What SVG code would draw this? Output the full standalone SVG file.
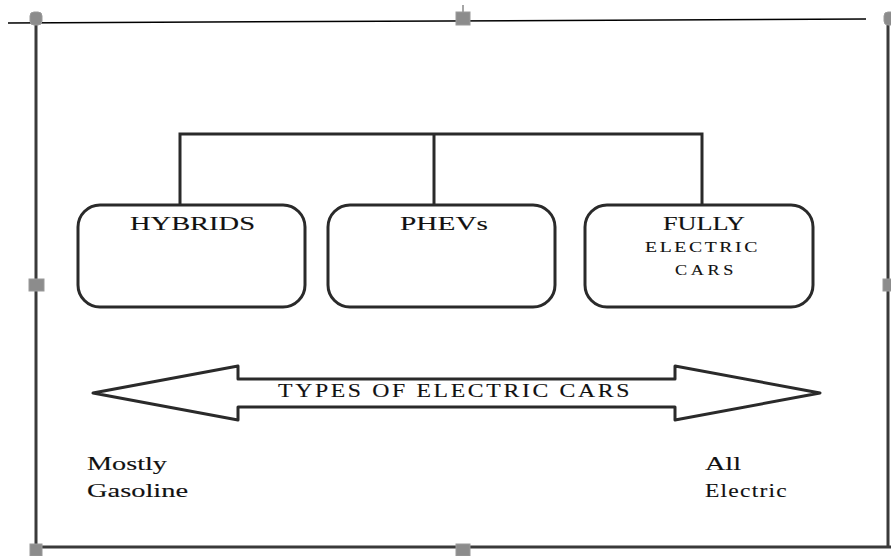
<svg xmlns="http://www.w3.org/2000/svg" width="891" height="556" viewBox="0 0 891 556">
<style>
.frame{stroke:#3a3a3a;stroke-width:3;fill:none}
.handle{fill:#8c8c8c;stroke:#9a9a9a;stroke-width:1}
.box{fill:#fff;stroke:#2a2a2a;stroke-width:3}
.conn{stroke:#2a2a2a;stroke-width:3;fill:none}
.t{font-family:"Liberation Serif","Times New Roman",serif;fill:#111;stroke:#111;stroke-width:0.12}
</style>
<rect width="891" height="556" fill="#fff"/>
<g id="frame">
<line x1="8" y1="23" x2="866" y2="19" stroke="#000" stroke-width="1.5"/>
<line class="frame" x1="36" y1="22" x2="36" y2="548"/>
<line class="frame" x1="888" y1="22" x2="888" y2="548"/>
<line class="frame" x1="36" y1="547" x2="891" y2="547"/>
<line x1="463" y1="5" x2="463" y2="12" stroke="#888" stroke-width="1.5"/>
<rect class="handle" x="30" y="12" width="12" height="13" rx="4"/>
<rect class="handle" x="456" y="12" width="14" height="13"/>
<rect class="handle" x="884" y="12" width="12" height="13" rx="4"/>
<rect class="handle" x="29" y="279" width="15" height="12"/>
<rect class="handle" x="883" y="279" width="10" height="12"/>
<rect class="handle" x="30" y="544" width="12" height="12"/>
<rect class="handle" x="456" y="544" width="14" height="12"/>
</g>
<g id="connectors">
<polyline class="conn" points="180,205 180,134 702,134 702,205"/>
<line class="conn" x1="434" y1="134" x2="434" y2="205"/>
</g>
<g id="hybrids">
<rect class="box" x="78" y="205" width="227" height="102" rx="22"/>
<text class="t" x="130" y="230" font-size="19" textLength="125" lengthAdjust="spacingAndGlyphs">HYBRIDS</text>
</g>
<g id="phevs">
<rect class="box" x="328" y="205" width="227" height="102" rx="22"/>
<text class="t" x="400" y="230" font-size="19" textLength="88" lengthAdjust="spacingAndGlyphs">PHEVs</text>
</g>
<g id="fully-electric">
<rect class="box" x="585" y="205" width="228" height="102" rx="22"/>
<text class="t" x="663" y="230" font-size="19" textLength="82" lengthAdjust="spacingAndGlyphs">FULLY</text>
<text class="t" x="645" y="252" font-size="15" letter-spacing="2" textLength="115" lengthAdjust="spacingAndGlyphs">ELECTRIC</text>
<text class="t" x="675" y="275" font-size="15" letter-spacing="3" textLength="62" lengthAdjust="spacingAndGlyphs">CARS</text>
</g>
<g id="types-arrow">
<polygon class="box" stroke-linejoin="round" points="93,393 238,366 238,379 675,379 675,366 820,393 675,420 675,407 238,407 238,420"/>
<text class="t" x="278" y="397" font-size="18" letter-spacing="2" textLength="354" lengthAdjust="spacingAndGlyphs">TYPES OF ELECTRIC CARS</text>
</g>
<g id="left-label">
<text class="t" x="87" y="470" font-size="19" textLength="80" lengthAdjust="spacingAndGlyphs">Mostly</text>
<text class="t" x="87" y="497" font-size="19" textLength="101" lengthAdjust="spacingAndGlyphs">Gasoline</text>
</g>
<g id="right-label">
<text class="t" x="705" y="470" font-size="19" textLength="36" lengthAdjust="spacingAndGlyphs">All</text>
<text class="t" x="705" y="497" font-size="19" letter-spacing="1" textLength="83" lengthAdjust="spacingAndGlyphs">Electric</text>
</g>
</svg>
